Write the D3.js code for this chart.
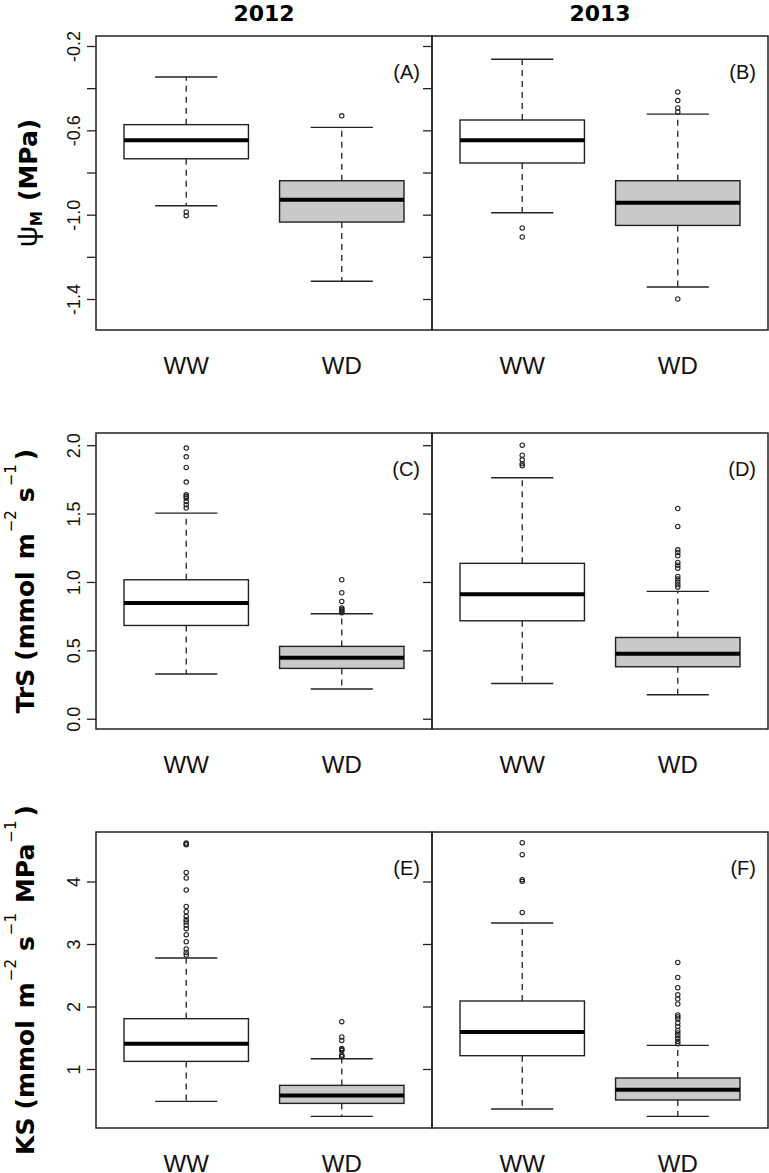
<!DOCTYPE html>
<html>
<head>
<meta charset="utf-8">
<script src="https://cdn.jsdelivr.net/npm/d3@7"></script>
<style>
  html, body { margin: 0; padding: 0; background: #fff; }
  svg { display: block; }
</style>
</head>
<body>
<svg id="chart" width="769" height="1173"></svg>
<script>
// ---------------- DATA ----------------
const years = ["2012", "2013"];
const groups = ["WW", "WD"];
const groupPos = [1, 2];
const panelLabels = [["(A)", "(B)"], ["(C)", "(D)"], ["(E)", "(F)"]];

// five-number summaries: [lower whisker, Q1, median, Q3, upper whisker]
// Row 1: psi_M (MPa)
const psi2012WW = [-0.958, -0.735, -0.647, -0.573, -0.347];
const psi2012WD = [-1.316, -1.035, -0.929, -0.839, -0.586];
const psi2013WW = [-0.991, -0.755, -0.647, -0.551, -0.263];
const psi2013WD = [-1.343, -1.051, -0.943, -0.839, -0.523];
const psi2012WWOut = [-0.987, -1.005];
const psi2012WDOut = [-0.531];
const psi2013WWOut = [-1.063, -1.106];
const psi2013WDOut = [-0.418, -0.459, -0.494, -0.513, -1.400];

// Row 2: TrS
const trs2012WW = [0.327, 0.682, 0.846, 1.016, 1.503];
const trs2012WD = [0.217, 0.368, 0.446, 0.529, 0.768];
const trs2013WW = [0.258, 0.716, 0.911, 1.136, 1.762];
const trs2013WD = [0.175, 0.380, 0.475, 0.594, 0.931];
const trs2012WWOut = [1.979, 1.915, 1.837, 1.730, 1.637, 1.625, 1.613, 1.588, 1.564, 1.540];
const trs2012WDOut = [1.016, 0.921, 0.858, 0.810, 0.800, 0.790, 0.780, 0.775];
const trs2013WWOut = [2.000, 1.927, 1.893, 1.864, 1.849];
const trs2013WDOut = [1.537, 1.406, 1.235, 1.216, 1.191, 1.143, 1.123, 1.101, 1.040, 1.021, 0.999, 0.979, 0.962];

// Row 3: KS
const ks2012WW = [0.482, 1.122, 1.405, 1.805, 2.776];
const ks2012WD = [0.242, 0.450, 0.578, 0.738, 1.165];
const ks2013WW = [0.360, 1.213, 1.592, 2.088, 3.336];
const ks2013WD = [0.242, 0.504, 0.669, 0.856, 1.378];
const ks2012WWOut = [4.616, 4.600, 4.589, 4.146, 4.056, 3.864, 3.602, 3.517, 3.442, 3.389, 3.352, 3.300, 3.245, 3.149, 3.037, 2.920, 2.866, 2.824];
const ks2012WDOut = [1.757, 1.512, 1.458, 1.330, 1.310, 1.298, 1.224, 1.210, 1.197];
const ks2013WWOut = [4.621, 4.429, 4.029, 4.003, 3.506];
const ks2013WDOut = [2.706, 2.466, 2.301, 2.189, 2.120, 2.040, 1.864, 1.832, 1.800, 1.736, 1.682, 1.618, 1.576, 1.533, 1.490, 1.442, 1.405];

// y-axis domains and ticks
const psiDomain = [-1.547, -0.1526];
const trsDomain = [-0.075, 2.089];
const ksDomain = [0.056, 4.792];
const psiTicks = [-1.4, -1.2, -1.0, -0.8, -0.6, -0.4, -0.2];
const psiTickLabels = ["-1.4", "", "-1.0", "", "-0.6", "", "-0.2"];
const trsTicks = [0.0, 0.5, 1.0, 1.5, 2.0];
const trsTickLabels = ["0.0", "0.5", "1.0", "1.5", "2.0"];
const ksTicks = [1, 2, 3, 4];
const ksTickLabels = ["1", "2", "3", "4"];

// ---------------- LAYOUT ----------------
const svg = d3.select("#chart");
const regFont = "'Liberation Sans', Arial, Helvetica, sans-serif";
const boldFont = "'DejaVu Sans', Verdana, sans-serif";
const ink = "#222";
const fills = ["#ffffff", "#c8c9cb"];

const rowTops = [36, 433, 832];
const rowBottoms = [330, 729, 1128];
const colEdges = [[96, 432], [432, 768]];

const rows = [
  { domain: psiDomain, ticks: psiTicks, tickLabels: psiTickLabels,
    stats: [[psi2012WW, psi2012WD], [psi2013WW, psi2013WD]],
    outs: [[psi2012WWOut, psi2012WDOut], [psi2013WWOut, psi2013WDOut]] },
  { domain: trsDomain, ticks: trsTicks, tickLabels: trsTickLabels,
    stats: [[trs2012WW, trs2012WD], [trs2013WW, trs2013WD]],
    outs: [[trs2012WWOut, trs2012WDOut], [trs2013WWOut, trs2013WDOut]] },
  { domain: ksDomain, ticks: ksTicks, tickLabels: ksTickLabels,
    stats: [[ks2012WW, ks2012WD], [ks2013WW, ks2013WD]],
    outs: [[ks2012WWOut, ks2012WDOut], [ks2013WWOut, ks2013WDOut]] }
];

// column titles
years.forEach((yr, c) => {
  svg.append("text")
    .attr("x", (colEdges[c][0] + colEdges[c][1]) / 2)
    .attr("y", 21)
    .attr("text-anchor", "middle")
    .style("font-family", boldFont).style("font-weight", "bold").style("font-size", "22px")
    .attr("fill", "#000")
    .text(yr);
});

rows.forEach((row, r) => {
  const y = d3.scaleLinear().domain(row.domain).range([rowBottoms[r], rowTops[r]]);
  colEdges.forEach((edge, c) => {
    const x = d3.scaleLinear().domain([0.42, 2.58]).range(edge);
    const g = svg.append("g");
    const halfBox = (x(1.4) - x(1.0));
    const halfCap = halfBox / 2;

    groups.forEach((grp, gi) => {
      const s = row.stats[c][gi];
      const cx = x(groupPos[gi]);
      // whiskers dashed
      g.append("line").attr("x1", cx).attr("x2", cx).attr("y1", y(s[3])).attr("y2", y(s[4]))
        .attr("stroke", ink).attr("stroke-width", 1.3).attr("stroke-dasharray", "6,5");
      g.append("line").attr("x1", cx).attr("x2", cx).attr("y1", y(s[1])).attr("y2", y(s[0]))
        .attr("stroke", ink).attr("stroke-width", 1.3).attr("stroke-dasharray", "6,5");
      // caps
      [s[0], s[4]].forEach(v => {
        g.append("line").attr("x1", cx - halfCap).attr("x2", cx + halfCap).attr("y1", y(v)).attr("y2", y(v))
          .attr("stroke", ink).attr("stroke-width", 1.4);
      });
      // box
      g.append("rect").attr("x", cx - halfBox).attr("width", 2 * halfBox)
        .attr("y", y(s[3])).attr("height", y(s[1]) - y(s[3]))
        .attr("fill", fills[gi]).attr("stroke", ink).attr("stroke-width", 1.4);
      // median
      g.append("line").attr("x1", cx - halfBox).attr("x2", cx + halfBox).attr("y1", y(s[2])).attr("y2", y(s[2]))
        .attr("stroke", "#000").attr("stroke-width", 4);
      // outliers
      g.selectAll(null).data(row.outs[c][gi]).enter().append("circle")
        .attr("cx", cx).attr("cy", d => y(d)).attr("r", 2.2)
        .attr("fill", "none").attr("stroke", ink).attr("stroke-width", 1.1);
      // category label
      svg.append("text").attr("x", cx).attr("y", rowBottoms[r] + 44)
        .attr("text-anchor", "middle")
        .style("font-family", regFont).style("font-size", "24px").attr("fill", "#111")
        .text(grp);
    });

    // axis ticks on left edge of each panel
    const axis = d3.axisLeft(y).tickValues(row.ticks).tickSize(9).tickPadding(0)
      .tickFormat((d, i) => c === 0 ? row.tickLabels[i] : "");
    const ag = svg.append("g").attr("transform", `translate(${edge[0]},0)`).call(axis);
    ag.select(".domain").remove();
    ag.selectAll(".tick line").attr("stroke", ink).attr("stroke-width", 1.3);
    ag.selectAll(".tick text")
      .attr("x", null).attr("dy", null)
      .attr("transform", "translate(-16,0) rotate(-90)")
      .attr("text-anchor", "middle")
      .style("font-family", regFont).style("font-size", "18px").attr("fill", "#111");

    // panel frame
    svg.append("rect").attr("x", edge[0]).attr("y", rowTops[r])
      .attr("width", edge[1] - edge[0]).attr("height", rowBottoms[r] - rowTops[r])
      .attr("fill", "none").attr("stroke", ink).attr("stroke-width", 1.5);

    // panel label
    svg.append("text").attr("x", edge[1] - 12).attr("y", rowTops[r] + 43)
      .attr("text-anchor", "end")
      .style("font-family", regFont).style("font-size", "20px").attr("fill", "#111")
      .text(panelLabels[r][c]);
  });
});

// y-axis titles (rotated). Each part: text, kind (main/sup/sub/greek), dx gap before it
function yTitle(cy, bx, size, parts) {
  const t = svg.append("text")
    .attr("transform", `translate(${bx},${cy}) rotate(-90)`)
    .attr("text-anchor", "middle")
    .style("font-family", boldFont).style("font-weight", "bold").style("font-size", size + "px")
    .attr("fill", "#000");
  let level = 0;
  parts.forEach(p => {
    const ts = t.append("tspan").text(p.t);
    let target = 0;
    if (p.k === "sup") { target = -18; ts.style("font-size", "15px").style("font-weight", "normal"); }
    if (p.k === "sub") { target = 5; ts.style("font-size", "15px"); }
    if (p.k === "greek") { ts.style("font-weight", "normal").style("font-family", regFont).style("font-size", (size + 5) + "px"); }
    if (target !== level) ts.attr("dy", target - level);
    level = target;
    if (p.dx) ts.attr("dx", p.dx);
  });
}
yTitle((rowTops[0] + rowBottoms[0]) / 2, 37, 25, [
  { t: "ψ", k: "greek" }, { t: "M", k: "sub" }, { t: "(MPa)", k: "main", dx: 10 }
]);
yTitle((rowTops[1] + rowBottoms[1]) / 2, 34, 25, [
  { t: "TrS", k: "main" }, { t: "(mmol", k: "main", dx: 8 }, { t: "m", k: "main", dx: 12 },
  { t: "\u22122", k: "sup", dx: 1 }, { t: "s", k: "main", dx: 8 },
  { t: "\u22121", k: "sup", dx: 1 }, { t: ")", k: "main", dx: 4 }
]);
yTitle((rowTops[2] + rowBottoms[2]) / 2, 34, 25, [
  { t: "KS", k: "main" }, { t: "(mmol", k: "main", dx: 8 }, { t: "m", k: "main", dx: 12 },
  { t: "\u22122", k: "sup", dx: 1 }, { t: "s", k: "main", dx: 8 },
  { t: "\u22121", k: "sup", dx: 1 }, { t: "MPa", k: "main", dx: 10 },
  { t: "\u22121", k: "sup", dx: 1 }, { t: ")", k: "main", dx: 4 }
]);
</script>
</body>
</html>
